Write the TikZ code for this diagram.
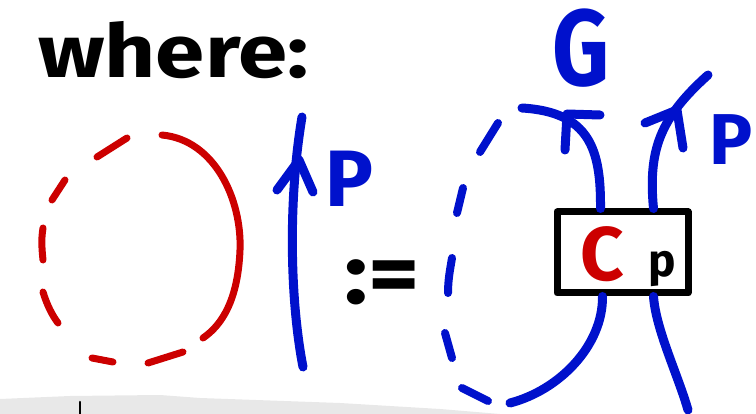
\documentclass[tikz,border=0pt]{standalone}
\usepackage{fontspec}
\setmainfont{Fira Sans}
\definecolor{pblue}{RGB}{0,17,204}
\definecolor{pred}{RGB}{204,0,0}
\definecolor{band}{RGB}{232,232,232}
\begin{document}
\begin{tikzpicture}[x=1pt,y=-1pt,line cap=round,line join=round,
  bstroke/.style={draw=pblue,line width=9pt},
  bdash/.style={draw=pblue,line width=8pt},
  rstroke/.style={draw=pred,line width=7pt},
  kstroke/.style={draw=black,line width=7pt},
  lbl/.style={inner sep=0pt,font=\bfseries}]
\useasboundingbox (0,0) rectangle (756,414);
% grey band at the bottom
\fill[band] (0,399) -- (70,396) -- (160,395) -- (200,398) -- (340,403) -- (440,409) -- (500,414) -- (0,414) -- cycle;
\draw[line width=2.5pt] (80,402) -- (80,414);
% title
\node[lbl,anchor=base west,font=\bfseries\fontsize{74}{80}\selectfont,xscale=1.2,transform shape] (where) at (38,78) {where:};
% red loop
\draw[rstroke] (162,135) .. controls (215,140) and (242,200) .. (240,250) .. controls (238,300) and (222,325) .. (203,338);
\draw[rstroke] (97,157) -- (127,138);
\draw[rstroke] (52,200) -- (65,180);
\draw[rstroke] (43,228) .. controls (41,240) and (42,250) .. (43,260);
\draw[rstroke] (43,292) .. controls (47,305) and (52,315) .. (58,323);
\draw[rstroke] (92,358) -- (113,362);
\draw[rstroke] (148,363) -- (183,352);
% left blue strand P
\coordinate (lpb) at (303,367);
\coordinate (lpt) at (302,117);
\draw[bstroke] (lpb) .. controls (290,300) and (288,200) .. (lpt);
\coordinate (lpa) at (299,160);
\draw[bstroke] (277,190) -- (lpa) -- (313,192);
\node[lbl,text=pblue,font=\bfseries\fontsize{80}{80}\selectfont] (p1) at (349,179) {P};
% :=
\node[lbl,font=\bfseries\fontsize{86}{86}\selectfont,xscale=1.15,transform shape] (def) at (382,282) {:=};
% box
\node[kstroke,minimum width=131pt,minimum height=81pt,inner sep=0pt] (box) at (622.5,252.5) {};
\node[lbl,text=pred,font=\bfseries\fontsize{76}{76}\selectfont] (C) at (602,254) {C};
\node[lbl,anchor=base west,font=\bfseries\fontsize{46}{46}\selectfont] (sub) at (648,277) {p};
% right loop
\coordinate (gend) at (522,108);
\coordinate (lbend) at (510,403);
\coordinate (rbend) at (688,410);
\coordinate (pend) at (708,75);
\draw[bstroke] ([xshift=-22pt]box.north) .. controls (601,150) and (590,112) .. (gend);
\draw[bstroke] (565,150) -- (567,114) -- (600,115);
\draw[bstroke] ([xshift=31pt]box.north) .. controls (648,150) and (660,118) .. (pend);
\draw[bstroke] (645,123) -- (677,110) -- (683,148);
\draw[bstroke] ([xshift=-20pt]box.south) .. controls (603,345) and (560,390) .. (lbend);
\draw[bstroke] ([xshift=31pt]box.south) .. controls (656,330) and (678,375) .. (rbend);
\draw[bdash] (480,152) -- (498,123);
\draw[bdash] (457,213) -- (463,188);
\draw[bdash] (448,293) .. controls (448,280) and (450,270) .. (452,258);
\draw[bdash] (445,333) -- (452,358);
\draw[bdash] (462,388) -- (488,401);
\node[lbl,text=pblue,font=\bfseries\fontsize{108}{108}\selectfont,xscale=0.82,transform shape] (G) at (581,48) {G};
\node[lbl,text=pblue,font=\bfseries\fontsize{72}{72}\selectfont] (p2) at (731,140) {P};
\end{tikzpicture}
\end{document}
